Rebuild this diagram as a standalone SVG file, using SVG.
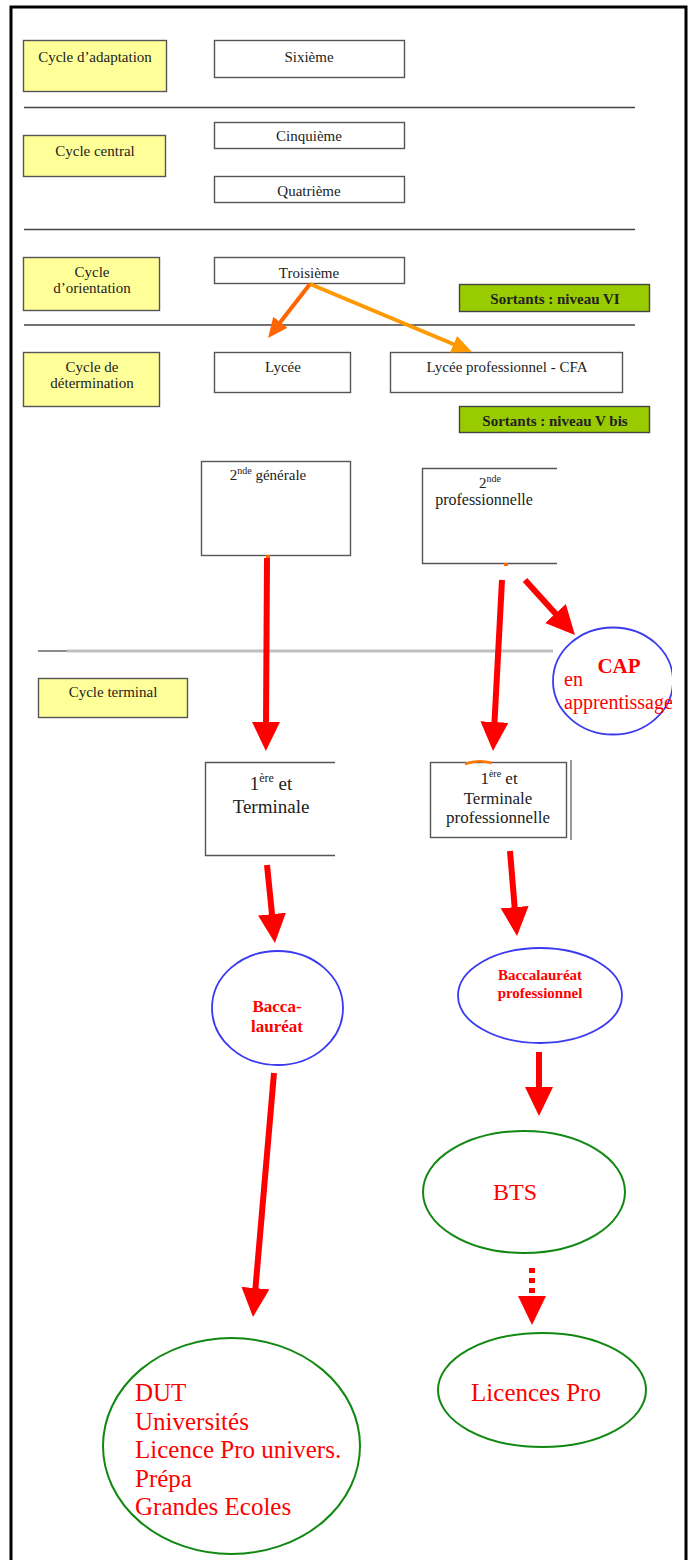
<svg xmlns="http://www.w3.org/2000/svg" width="692" height="1560" viewBox="0 0 692 1560">
<style>
.t{font-family:"Liberation Serif","Times New Roman",serif;font-size:15px;fill:#222;text-anchor:middle}
.b{font-weight:bold}
.r{fill:#ff0000}
.box{fill:#fff;stroke:#555;stroke-width:1.4}
.cyc{fill:#ffff99;stroke:#555;stroke-width:1.4}
.out{fill:#99cc00;stroke:#444;stroke-width:1.4}
.sep{stroke:#444;stroke-width:1.3}
.blue{fill:none;stroke:#3a3af0;stroke-width:1.8}
.green{fill:none;stroke:#118811;stroke-width:2}
.red{stroke:#ff0000;stroke-width:6;fill:none}
</style>
<defs>
<marker id="hr" markerUnits="userSpaceOnUse" markerWidth="30" markerHeight="30" refX="2" refY="14" orient="auto"><path d="M0,0 L29,14 L0,28 Z" fill="#ff0000"/></marker>
<marker id="ho1" markerUnits="userSpaceOnUse" markerWidth="22" markerHeight="22" refX="2" refY="9" orient="auto"><path d="M0,0 L20,9 L0,18 Z" fill="#ff6600"/></marker>
<marker id="ho2" markerUnits="userSpaceOnUse" markerWidth="22" markerHeight="22" refX="2" refY="9" orient="auto"><path d="M0,0 L20,9 L0,18 Z" fill="#ff9900"/></marker>
<clipPath id="capclip"><rect x="540" y="600" width="132" height="150"/></clipPath>
</defs>
<rect width="692" height="1560" fill="#fff"/>
<rect x="11" y="7" width="675" height="1560" fill="none" stroke="#000" stroke-width="3"/>
<g id="separators">
<line class="sep" x1="24" y1="107.5" x2="635" y2="107.5"/>
<line class="sep" x1="24" y1="229.5" x2="635" y2="229.5"/>
<line class="sep" x1="24" y1="325" x2="635" y2="325"/>
<line x1="38" y1="651" x2="67" y2="651" stroke="#666" stroke-width="1.5"/>
<line x1="67" y1="651" x2="553" y2="651" stroke="#c0c0c0" stroke-width="3"/>
</g>
<g id="cycle-adaptation"><rect class="cyc" x="23.5" y="40.5" width="143" height="51"/><text class="t" x="95" y="62">Cycle d’adaptation</text></g>
<g id="sixieme"><rect class="box" x="214.5" y="40.5" width="190" height="37"/><text class="t" x="309" y="62">Sixième</text></g>
<g id="cycle-central"><rect class="cyc" x="23.5" y="135.5" width="142" height="41"/><text class="t" x="95" y="156">Cycle central</text></g>
<g id="cinquieme"><rect class="box" x="214.5" y="122.5" width="190" height="26"/><text class="t" x="309" y="141">Cinquième</text></g>
<g id="quatrieme"><rect class="box" x="214.5" y="176.5" width="190" height="26"/><text class="t" x="309" y="196">Quatrième</text></g>
<g id="cycle-orientation"><rect class="cyc" x="23.5" y="257.5" width="136" height="53"/><text class="t" x="92" y="277">Cycle</text><text class="t" x="92" y="293">d’orientation</text></g>
<g id="troisieme"><rect class="box" x="214.5" y="257.5" width="190" height="26"/><text class="t" x="309" y="278">Troisième</text></g>
<g id="sortants-vi"><rect class="out" x="459.5" y="284.5" width="190" height="27"/><text class="t b" x="555" y="304">Sortants : niveau VI</text></g>
<g id="cycle-determination"><rect class="cyc" x="23.5" y="352.5" width="136" height="54"/><text class="t" x="92" y="372">Cycle de</text><text class="t" x="92" y="388">détermination</text></g>
<g id="lycee"><rect class="box" x="214.5" y="352.5" width="136" height="40"/><text class="t" x="283" y="372">Lycée</text></g>
<g id="lycee-pro"><rect class="box" x="390.5" y="352.5" width="232" height="40"/><text class="t" x="507" y="372">Lycée professionnel - CFA</text></g>
<g id="sortants-vbis"><rect class="out" x="459.5" y="406.5" width="190" height="26"/><text class="t b" x="555" y="426">Sortants : niveau V bis</text></g>
<g id="seconde-generale"><rect class="box" x="201.5" y="461.5" width="149" height="94"/><text class="t" x="268" y="480">2<tspan font-size="10" dy="-6">nde</tspan><tspan dy="6"> générale</tspan></text><rect x="266" y="555" width="4" height="3" fill="#ff6600"/></g>
<g id="seconde-pro"><path d="M557,468.5 H422.5 V563.5 H557" fill="none" stroke="#555" stroke-width="1.4"/><text class="t" x="490" y="488">2<tspan font-size="10" dy="-6">nde</tspan></text><text class="t" x="484" y="505" style="font-size:16px">professionnelle</text><rect x="504" y="563" width="4" height="3" fill="#ff6600"/></g>
<g id="cycle-terminal"><rect class="cyc" x="38.5" y="678.5" width="149" height="39"/><text class="t" x="113" y="697">Cycle terminal</text></g>
<g id="cap"><g clip-path="url(#capclip)"><ellipse class="blue" cx="613" cy="681" rx="60" ry="53.5"/><text class="t b r" x="619" y="673" style="font-size:21px">CAP</text><text class="t r" x="564" y="686" style="font-size:20px;text-anchor:start">en</text><text class="t r" x="564" y="709" style="font-size:20px;text-anchor:start">apprentissage</text></g></g>
<g id="premiere-terminale"><path d="M335,762.5 H205.5 V855.5 H335" fill="none" stroke="#555" stroke-width="1.4"/><text class="t" x="271" y="790" style="font-size:19px">1<tspan font-size="12" dy="-8">ère</tspan><tspan dy="8"> et</tspan></text><text class="t" x="271" y="813" style="font-size:19px">Terminale</text></g>
<g id="premiere-terminale-pro"><rect class="box" x="430.5" y="762.5" width="136" height="75"/><line x1="571" y1="760" x2="571" y2="840" stroke="#555" stroke-width="1.2"/><path d="M465,764 Q478,759 492,763" stroke="#ff7700" stroke-width="2.5" fill="none"/><text class="t" x="499" y="784" style="font-size:17px">1<tspan font-size="10" dy="-7">ère</tspan><tspan dy="7"> et</tspan></text><text class="t" x="498" y="804" style="font-size:17px">Terminale</text><text class="t" x="498" y="823" style="font-size:17px">professionnelle</text></g>
<g id="bac"><ellipse class="blue" cx="277.5" cy="1008" rx="65.5" ry="57"/><text class="t b r" x="277" y="1012" style="font-size:17px">Bacca-</text><text class="t b r" x="277" y="1032" style="font-size:17px">lauréat</text></g>
<g id="bac-pro"><ellipse class="blue" cx="540" cy="995.5" rx="82" ry="47.5"/><text class="t b r" x="540" y="980">Baccalauréat</text><text class="t b r" x="540" y="998">professionnel</text></g>
<g id="bts"><ellipse class="green" cx="524" cy="1192" rx="101" ry="61"/><text class="t r" x="515" y="1200" style="font-size:24px">BTS</text></g>
<g id="licences-pro"><ellipse class="green" cx="542" cy="1390" rx="104" ry="57"/><text class="t r" x="536" y="1401" style="font-size:25px">Licences Pro</text></g>
<g id="poursuites"><ellipse class="green" cx="231.5" cy="1446" rx="128.5" ry="108"/><g class="t r" style="font-size:25px;text-anchor:start"><text x="135" y="1401">DUT</text><text x="135" y="1429.5">Universités</text><text x="135" y="1458">Licence Pro univers.</text><text x="135" y="1486.5">Prépa</text><text x="135" y="1515">Grandes Ecoles</text></g></g>
<g id="connectors">
<line x1="310" y1="284" x2="279.1" y2="323.8" stroke="#ff6600" stroke-width="4" marker-end="url(#ho1)"/>
<line x1="310" y1="284" x2="455.4" y2="345" stroke="#ff9900" stroke-width="4" marker-end="url(#ho2)"/>
<line class="red" x1="267" y1="558" x2="266" y2="724" marker-end="url(#hr)"/>
<line class="red" x1="502" y1="580" x2="494.4" y2="724" marker-end="url(#hr)"/>
<line class="red" x1="525" y1="580" x2="556.8" y2="615" marker-end="url(#hr)"/>
<line class="red" x1="267" y1="865" x2="272.2" y2="916.1" marker-end="url(#hr)"/>
<line class="red" x1="510" y1="851" x2="514.8" y2="909.1" marker-end="url(#hr)"/>
<line class="red" x1="539" y1="1052" x2="539" y2="1089" marker-end="url(#hr)"/>
<line class="red" x1="532" y1="1268" x2="532" y2="1298" stroke-dasharray="5,5" marker-end="url(#hr)"/>
<line class="red" x1="274" y1="1073" x2="255.3" y2="1290.1" marker-end="url(#hr)"/>
</g>
</svg>
